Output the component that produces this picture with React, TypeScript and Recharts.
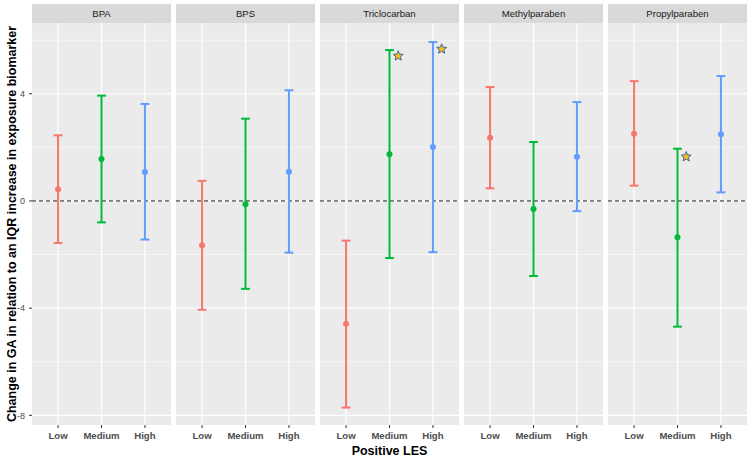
import React from 'react';
import {
  ComposedChart,
  Scatter,
  ErrorBar,
  XAxis,
  YAxis,
  ReferenceLine,
  CartesianGrid,
} from 'recharts';

const panels = ['BPA', 'BPS', 'Triclocarban', 'Methylparaben', 'Propylparaben'];
const categories = ['Low', 'Medium', 'High'];
const colors = ['#F8766D', '#00BA38', '#619CFF'];

const estimates = [
  [0.44, 1.57, 1.08],
  [-1.65, -0.12, 1.09],
  [-4.58, 1.74, 2.01],
  [2.36, -0.3, 1.65],
  [2.51, -1.35, 2.49],
];
const lowerCI = [
  [-1.57, -0.8, -1.44],
  [-4.06, -3.28, -1.93],
  [-7.71, -2.13, -1.91],
  [0.47, -2.8, -0.38],
  [0.57, -4.69, 0.32],
];
const upperCI = [
  [2.45, 3.93, 3.62],
  [0.75, 3.07, 4.13],
  [-1.48, 5.63, 5.93],
  [4.25, 2.2, 3.69],
  [4.47, 1.95, 4.66],
];

const starPanels = ['Triclocarban', 'Triclocarban', 'Propylparaben'];
const starCategories = ['Medium', 'High', 'Medium'];
const starValues = [5.41, 5.67, 1.65];

const yTicks = [-8, -4, 0, 4];
const yMinor = [-6, -2, 2, 6];
const yDomain = [-8.36, 6.64];

const FONT = '"Liberation Sans", Arial, sans-serif';
const PANEL_W = 139;
const GAP = 5;
const FIRST_LEFT = 32;
const PLOT_TOP = 23;
const PLOT_H = 402;
const XAXIS_H = 30;
const STAR_OFFSET = 0.2;

const Dot = (props: any) => {
  const { cx, cy, fill } = props;
  if (cx == null || cy == null) return null;
  return <circle cx={cx} cy={cy} r={3} fill={fill} />;
};

const Star = (props: any) => {
  const { cx, cy } = props;
  if (cx == null || cy == null) return null;
  const outer = 5.2;
  const inner = 2.3;
  const pts: string[] = [];
  for (let k = 0; k < 10; k++) {
    const r = k % 2 === 0 ? outer : inner;
    const a = -Math.PI / 2 + (k * Math.PI) / 5;
    pts.push(`${cx + r * Math.cos(a)},${cy + r * Math.sin(a)}`);
  }
  return <polygon points={pts.join(' ')} fill="#F2C01E" stroke="#3E6A96" strokeWidth={1} />;
};

function Panel({ index }: { index: number }) {
  const first = index === 0;
  const left = first ? 0 : FIRST_LEFT + index * (PANEL_W + GAP);
  const width = first ? FIRST_LEFT + PANEL_W : PANEL_W;
  const name = panels[index];
  const stars = starPanels
    .map((p, k) => ({ p, k }))
    .filter((s) => s.p === name)
    .map((s) => ({
      x: categories.indexOf(starCategories[s.k]) + 1 + STAR_OFFSET,
      y: starValues[s.k],
    }));
  return (
    <div style={{ position: 'absolute', left, top: PLOT_TOP }}>
      <ComposedChart
        width={width}
        height={PLOT_H + XAXIS_H}
        margin={{ top: 0, right: 0, bottom: 0, left: 0 }}
      >
        <CartesianGrid
          fill="#EBEBEB"
          stroke="#FFFFFF"
          strokeWidth={0.6}
          horizontalValues={yMinor}
          vertical={false}
        />
        <CartesianGrid
          stroke="#FFFFFF"
          strokeWidth={1.2}
          horizontalValues={yTicks}
          verticalValues={[1, 2, 3]}
        />
        <XAxis
          dataKey="x"
          type="number"
          domain={[0.4, 3.6]}
          ticks={[1, 2, 3]}
          interval={0}
          allowDataOverflow
          tickFormatter={(v: number) => categories[v - 1]}
          tick={{ fill: '#4D4D4D', fontSize: 9.6, fontWeight: 'bold', fontFamily: FONT }}
          tickLine={{ stroke: '#333333' }}
          tickSize={3}
          tickMargin={4}
          axisLine={false}
          height={XAXIS_H}
        />
        <YAxis
          type="number"
          dataKey="y"
          domain={yDomain}
          ticks={yTicks}
          interval={0}
          allowDataOverflow
          hide={!first}
          width={first ? FIRST_LEFT : 0}
          tick={{ fill: '#4D4D4D', fontSize: 9, fontFamily: FONT }}
          tickLine={{ stroke: '#333333' }}
          tickSize={3}
          tickMargin={4}
          axisLine={false}
        />
        <ReferenceLine y={0} stroke="#000000" strokeWidth={0.9} strokeDasharray="4 3" />
        {categories.map((c, j) => {
          const est = estimates[index][j];
          const data = [
            {
              x: j + 1,
              y: est,
              err: [est - lowerCI[index][j], upperCI[index][j] - est],
            },
          ];
          return (
            <Scatter
              key={c}
              name={c}
              data={data}
              dataKey="y"
              fill={colors[j]}
              shape={<Dot />}
              isAnimationActive={false}
            >
              <ErrorBar
                dataKey="err"
                direction="y"
                width={4.4}
                stroke={colors[j]}
                strokeWidth={2}
                isAnimationActive={false}
              />
            </Scatter>
          );
        })}
        {stars.length > 0 && (
          <Scatter data={stars} dataKey="y" shape={<Star />} isAnimationActive={false} />
        )}
      </ComposedChart>
    </div>
  );
}

export default function App() {
  return (
    <div
      style={{
        position: 'absolute',
        left: 0,
        top: 0,
        width: 750,
        height: 460,
        background: '#FFFFFF',
        fontFamily: FONT,
      }}
    >
      <svg width={750} height={460} style={{ position: 'absolute', left: 0, top: 0 }}>
        {panels.map((p, i) => {
          const x = FIRST_LEFT + i * (PANEL_W + GAP);
          return (
            <g key={p}>
              <rect x={x} y={4} width={PANEL_W} height={PLOT_TOP - 4} fill="#D9D9D9" />
              <text
                x={x + PANEL_W / 2}
                y={(PLOT_TOP + 4) / 2}
                textAnchor="middle"
                dominantBaseline="central"
                fontSize={9.6}
                fill="#1A1A1A"
                fontFamily={FONT}
              >
                {p}
              </text>
            </g>
          );
        })}
        <text
          x={389.5}
          y={451}
          textAnchor="middle"
          dominantBaseline="central"
          fontSize={12.5}
          fontWeight="bold"
          fill="#000000"
          fontFamily={FONT}
        >
          Positive LES
        </text>
        <text
          transform={`translate(12, ${PLOT_TOP + PLOT_H / 2}) rotate(-90)`}
          textAnchor="middle"
          dominantBaseline="central"
          fontSize={12.5}
          fontWeight="bold"
          fill="#000000"
          fontFamily={FONT}
        >
          Change in GA in relation to an IQR increase in exposure biomarker
        </text>
      </svg>
      {panels.map((p, i) => (
        <Panel key={p} index={i} />
      ))}
    </div>
  );
}
